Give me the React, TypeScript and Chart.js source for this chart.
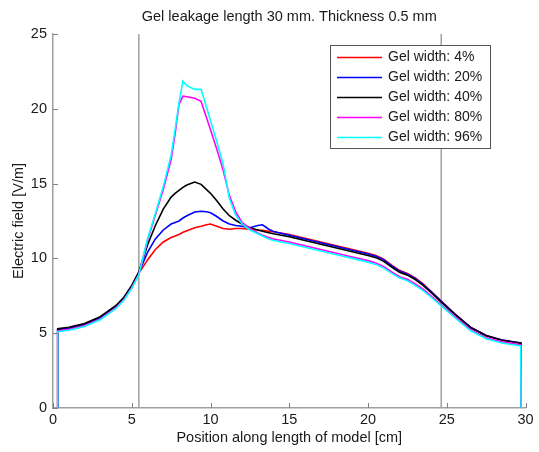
import React, { useEffect, useRef } from "react";
import { Chart, registerables } from "chart.js";

Chart.register(...registerables);

const TITLE = "Gel leakage length 30 mm. Thickness 0.5 mm";
const X_LABEL = "Position along length of model [cm]";
const Y_LABEL = "Electric field [V/m]";
const SERIES_LABELS = ["Gel width: 4%", "Gel width: 20%", "Gel width: 40%", "Gel width: 80%", "Gel width: 96%"];
const SERIES_COLORS = ["#ff0000", "#0000ff", "#000000", "#ff00ff", "#00ffff"];
const X_TICKS = [0, 5, 10, 15, 20, 25, 30];
const Y_TICKS = [0, 5, 10, 15, 20, 25];
const REF_LINES = [5.45, 24.65];

const positions = [
  0.28, 0.3, 1, 2, 3, 4, 4.5, 5, 5.45, 6, 6.5, 7, 7.5, 7.75, 8, 8.25, 8.5, 9, 9.4, 9.75,
  10, 10.4, 10.8, 11.2, 11.6, 12, 12.5, 13, 13.3, 13.7, 14, 15, 16, 17, 18, 19, 20, 20.5,
  21, 21.5, 22, 22.5, 23, 23.5, 24, 24.65, 25.5, 26.5, 27.5, 28.5, 29.4, 29.7, 29.72,
];

const width4 = [
  0, 5.2, 5.3, 5.55, 6.0, 6.75, 7.3, 8.1, 9.0, 9.9, 10.6, 11.1, 11.4, 11.5, 11.6, 11.75, 11.85, 12.05, 12.15, 12.25,
  12.3, 12.15, 12.0, 11.95, 12.0, 12.0, 11.95, 11.9, 11.88, 11.82, 11.78, 11.6, 11.35, 11.1, 10.85, 10.6, 10.35, 10.2,
  9.95, 9.55, 9.2, 9.0, 8.7, 8.3, 7.8, 7.15, 6.3, 5.4, 4.85, 4.55, 4.4, 4.35, 0,
];
const width20 = [
  0, 5.25, 5.35, 5.6, 6.05, 6.8, 7.35, 8.15, 9.05, 10.4, 11.3, 11.9, 12.3, 12.4, 12.5, 12.7, 12.85, 13.1, 13.15, 13.12,
  13.05, 12.8, 12.5, 12.3, 12.2, 12.15, 12.05, 12.2, 12.25, 11.95, 11.8, 11.55, 11.3, 11.05, 10.8, 10.55, 10.3, 10.15,
  9.9, 9.5, 9.15, 8.95, 8.65, 8.25, 7.78, 7.13, 6.3, 5.4, 4.85, 4.55, 4.4, 4.35, 0,
];
const width40 = [
  0, 5.3, 5.4, 5.65, 6.1, 6.85, 7.4, 8.2, 9.1, 10.9, 12.2, 13.3, 14.1, 14.35, 14.55, 14.75, 14.9, 15.1, 14.95, 14.6,
  14.35, 13.85, 13.3, 12.85, 12.55, 12.3, 12.05, 11.9, 11.82, 11.72, 11.65, 11.45, 11.2, 10.95, 10.7, 10.45, 10.2, 10.05,
  9.8, 9.42, 9.08, 8.88, 8.58, 8.2, 7.72, 7.08, 6.28, 5.38, 4.83, 4.53, 4.38, 4.33, 0,
];
const width80 = [
  0, 5.15, 5.25, 5.5, 5.95, 6.7, 7.25, 8.05, 8.95, 11.2, 12.9, 14.6, 16.6, 18.3, 20.3, 20.85, 20.8, 20.7, 20.5, 19.4,
  18.6, 17.3, 15.9, 14.2, 13.1, 12.4, 12.0, 11.7, 11.55, 11.4, 11.3, 11.1, 10.85, 10.6, 10.35, 10.1, 9.85, 9.7,
  9.45, 9.1, 8.78, 8.6, 8.3, 7.95, 7.5, 6.9, 6.12, 5.25, 4.7, 4.42, 4.28, 4.22, 0,
];
const width96 = [
  0, 5.1, 5.2, 5.45, 5.9, 6.65, 7.2, 8.0, 8.9, 11.3, 13.0, 14.8, 16.9, 18.6, 20.4, 21.85, 21.55, 21.3, 21.3, 20.1,
  19.2, 17.8, 16.3, 14.0, 12.9, 12.3, 11.9, 11.65, 11.5, 11.3, 11.2, 11.0, 10.75, 10.5, 10.25, 10.0, 9.75, 9.6,
  9.35, 9.0, 8.7, 8.5, 8.2, 7.85, 7.42, 6.82, 6.05, 5.18, 4.63, 4.35, 4.2, 4.15, 0,
];

const SERIES_VALUES = [width4, width20, width40, width80, width96];

const FONT = '"Liberation Sans", Arial, Helvetica, sans-serif';
const AXIS_GRAY = "#a0a0a0";
const TEXT = "#1a1a1a";

const overlay = {
  id: "overlay",
  beforeDatasetsDraw(chart: any) {
    const { ctx, chartArea, scales } = chart;
    const x = scales.x;
    ctx.save();
    ctx.strokeStyle = AXIS_GRAY;
    ctx.lineWidth = 1.5;
    REF_LINES.forEach((v) => {
      const px = x.getPixelForValue(v);
      ctx.beginPath();
      ctx.moveTo(px, chartArea.top);
      ctx.lineTo(px, chartArea.bottom);
      ctx.stroke();
    });
    ctx.restore();
  },
  afterDraw(chart: any) {
    const { ctx, chartArea, scales } = chart;
    const x = scales.x;
    const y = scales.y;
    ctx.save();
    // inward ticks
    ctx.strokeStyle = "#808080";
    ctx.lineWidth = 1;
    X_TICKS.forEach((v) => {
      const px = Math.round(x.getPixelForValue(v)) + 0.5;
      ctx.beginPath();
      ctx.moveTo(px, chartArea.bottom);
      ctx.lineTo(px, chartArea.bottom - 5);
      ctx.stroke();
    });
    Y_TICKS.forEach((v) => {
      const py = Math.round(y.getPixelForValue(v)) + 0.5;
      ctx.beginPath();
      ctx.moveTo(chartArea.left, py);
      ctx.lineTo(chartArea.left + 5, py);
      ctx.stroke();
    });
    // title
    ctx.fillStyle = TEXT;
    ctx.font = `14.5px ${FONT}`;
    ctx.textAlign = "center";
    ctx.textBaseline = "middle";
    ctx.fillText(TITLE, (chartArea.left + chartArea.right) / 2, 17);
    // legend
    const bx = 330, by = 45, bw = 160, bh = 103;
    ctx.fillStyle = "#ffffff";
    ctx.fillRect(bx, by, bw, bh);
    ctx.strokeStyle = "#555555";
    ctx.lineWidth = 1;
    ctx.strokeRect(bx + 0.5, by + 0.5, bw, bh);
    ctx.font = `14px ${FONT}`;
    ctx.textAlign = "left";
    SERIES_LABELS.forEach((label, i) => {
      const ry = by + 12.5 + i * 20;
      ctx.strokeStyle = SERIES_COLORS[i];
      ctx.lineWidth = 1.5;
      ctx.beginPath();
      ctx.moveTo(337, ry);
      ctx.lineTo(382, ry);
      ctx.stroke();
      ctx.fillStyle = TEXT;
      ctx.fillText(label, 388, ry);
    });
    ctx.restore();
  },
};

export default function App() {
  const canvasRef = useRef<HTMLCanvasElement | null>(null);

  useEffect(() => {
    if (!canvasRef.current) return;
    const datasets = SERIES_LABELS.map((label, i) => ({
      label,
      data: positions.map((p, j) => ({ x: p, y: SERIES_VALUES[i][j] })),
      borderColor: SERIES_COLORS[i],
      backgroundColor: SERIES_COLORS[i],
      borderWidth: 1.6,
      pointRadius: 0,
      tension: 0,
      fill: false,
      order: SERIES_LABELS.length - i,
    }));
    const chart = new Chart(canvasRef.current, {
      type: "line",
      data: { datasets },
      plugins: [overlay],
      options: {
        animation: false,
        responsive: false,
        maintainAspectRatio: false,
        layout: { padding: { left: 0, right: 13.5, top: 34, bottom: 0 } },
        plugins: {
          legend: { display: false },
          title: { display: false },
          tooltip: { enabled: false },
        },
        scales: {
          x: {
            type: "linear",
            min: 0,
            max: 30,
            afterFit: (s: any) => { s.height = 44; },
            afterBuildTicks: (s: any) => { s.ticks = X_TICKS.map((v) => ({ value: v })); },
            grid: { display: false, drawTicks: false },
            border: { display: true, color: AXIS_GRAY, width: 1.5 },
            ticks: { color: TEXT, font: { family: FONT, size: 14.5 }, padding: 3, maxRotation: 0 },
            title: { display: true, text: X_LABEL, color: TEXT, font: { family: FONT, size: 14.5 }, padding: { top: 0, bottom: 5.3 } },
          },
          y: {
            type: "linear",
            min: 0,
            max: 25,
            afterFit: (s: any) => { s.width = 53; },
            afterBuildTicks: (s: any) => { s.ticks = Y_TICKS.map((v) => ({ value: v })); },
            grid: { display: false, drawTicks: false },
            border: { display: true, color: AXIS_GRAY, width: 1.5 },
            ticks: { color: TEXT, font: { family: FONT, size: 14.5 }, padding: 6 },
            title: { display: true, text: Y_LABEL, color: TEXT, font: { family: FONT, size: 14.5 }, padding: { top: 10, bottom: 0 } },
          },
        },
      },
    });
    return () => chart.destroy();
  }, []);

  return (
    <div style={{ position: "fixed", left: 0, top: 0, width: 539, height: 452, background: "#ffffff" }}>
      <canvas ref={canvasRef} width={539} height={452} style={{ width: 539, height: 452, display: "block" }} />
    </div>
  );
}
